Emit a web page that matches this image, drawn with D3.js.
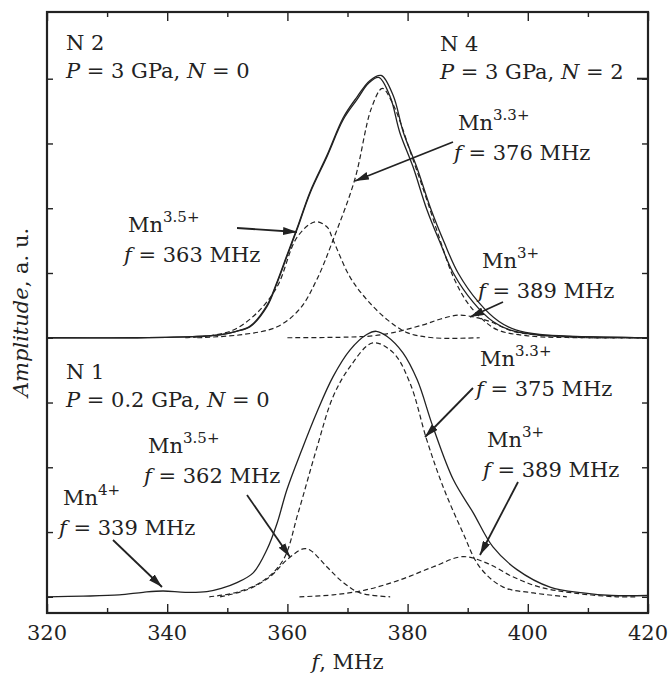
<!DOCTYPE html>
<html>
<head>
<meta charset="utf-8">
<script src="https://cdn.jsdelivr.net/npm/d3@7"></script>
<style>
  body { margin: 0; background: #fff; }
</style>
</head>
<body>
<div id="chart"></div>
<script>
// ---- data: [f in MHz, amplitude in tick units] ----
// lower spectrum sits on 0, upper spectrum on 4
const xTicksMajor = [320, 340, 360, 380, 400, 420];
const xTicksMinor = [330, 350, 370, 390, 410];
const yTicks = [0, 1, 2, 3, 4, 5, 6, 7, 8];

const upperN2 = [[320,4.0],[335,4.0],[345,4.02],[349,4.05],[351.5,4.1],[353.8,4.17],[356.6,4.48],[358.3,4.85],[359.9,5.25],[361.6,5.67],[363.8,6.24],[366.6,6.80],[369.3,7.37],[371.6,7.68],[373.5,7.93],[375.2,8.02],[377.1,7.72],[378.7,7.17],[380.9,6.64],[383.2,5.98],[385.4,5.47],[387.6,5.0],[390.9,4.55],[394.2,4.25],[397,4.12],[401,4.05],[407,4.02],[420,4.0]];
const upperN4 = [[320,4.0],[335,4.0],[345,4.02],[349,4.05],[351.5,4.1],[353.8,4.18],[356.6,4.5],[358.3,4.87],[359.9,5.27],[361.6,5.69],[363.8,6.26],[366.6,6.82],[369.3,7.4],[371.6,7.72],[373.7,7.97],[375.6,8.05],[377.6,7.74],[379.3,7.17],[381.5,6.64],[383.9,5.98],[386.1,5.47],[388.4,5.0],[391.8,4.55],[395.2,4.25],[398,4.12],[402,4.05],[408,4.02],[420,4.0]];
const upperMn33 = [[345,4.0],[352.6,4.05],[358.3,4.17],[362.1,4.45],[364.9,4.9],[367.6,5.51],[371.2,6.44],[374,7.55],[375.8,7.85],[377.6,7.6],[380.9,6.75],[383.2,6.13],[385.4,5.51],[387.6,4.94],[389.9,4.55],[392.5,4.28],[395,4.12],[400,4.03],[410,4.0],[420,4.0]];
const upperMn35 = [[343,4.0],[347,4.03],[351,4.12],[354.9,4.38],[358.3,4.79],[361.6,5.55],[364.6,5.79],[366.6,5.71],[367.6,5.51],[370.4,4.94],[373.2,4.59],[376.6,4.28],[379.9,4.08],[384.2,4.0],[392,4.0]];
const upperMn3 = [[360,4.0],[370,4.01],[374.2,4.03],[377.6,4.08],[382.6,4.2],[385.5,4.29],[388.5,4.35],[391.5,4.31],[394,4.24],[397.5,4.1],[400.9,4.05],[410,4.0],[420,4.0]];

const lowerN1 = [[320,0],[326,0.01],[332,0.03],[336,0.07],[339.3,0.09],[343,0.07],[346.6,0.08],[349,0.13],[351.6,0.22],[354.3,0.37],[356.6,0.73],[358.3,1.14],[359.9,1.65],[362.4,2.27],[364.9,2.85],[367.6,3.4],[370.4,3.81],[373.2,4.05],[374.8,4.1],[376.6,4.02],[379.2,3.77],[381.6,3.35],[384.2,2.63],[387.6,1.81],[390.9,1.3],[394.2,0.77],[398.2,0.42],[403.7,0.15],[409.2,0.06],[414,0.02],[420,0.02]];
const lowerMn33 = [[347,0.0],[351.6,0.07],[356,0.25],[359.3,0.57],[361.8,1.3],[364.9,2.3],[367.6,3.09],[370.4,3.55],[374.2,3.92],[377.6,3.77],[380.4,3.3],[383.2,2.42],[385.9,1.7],[389.2,0.99],[392,0.46],[395.9,0.15],[400.9,0.06],[406.5,0.0]];
const lowerMn35 = [[348.8,0],[353.3,0.11],[357.1,0.31],[359.9,0.57],[362.6,0.74],[363.8,0.72],[366.6,0.46],[369.3,0.22],[372.1,0.06],[377.1,0]];
const lowerMn3 = [[362,0],[367.6,0.03],[373.2,0.11],[378.7,0.26],[384.2,0.46],[389.2,0.62],[393.2,0.52],[397.5,0.31],[402,0.15],[407.5,0.06],[414.8,0],[418,0]];

// annotation texts
const panelLabels = [
  {name: 'N 2', p: '3 GPa', n: '0', x: 66, y: 50},
  {name: 'N 4', p: '3 GPa', n: '2', x: 440, y: 51},
  {name: 'N 1', p: '0.2 GPa', n: '0', x: 66, y: 379}
];
const ionLabels = [
  {ion: '3.3+', f: 376, x: 458, y: 130, ax: [453,142], bx: [355,181]},
  {ion: '3.5+', f: 363, x: 128, y: 232, ax: [237,228], bx: [297,232]},
  {ion: '3+',   f: 389, x: 482, y: 268, ax: [503,302], bx: [470,317]},
  {ion: '3.3+', f: 375, x: 480, y: 366, ax: [473,388], bx: [425,437]},
  {ion: '3+',   f: 389, x: 487, y: 447, ax: [518,482], bx: [480,555]},
  {ion: '3.5+', f: 362, x: 148, y: 453, ax: [247,495], bx: [290,557]},
  {ion: '4+',   f: 339, x: 63,  y: 505, ax: [113,540], bx: [162,587]}
];

const width = 671, height = 677;
const margin = {top: 12, right: 23, bottom: 64, left: 47};
const innerW = width - margin.left - margin.right;
const innerH = height - margin.top - margin.bottom;
const fs = 21;
const ink = '#222';
const face = '"DejaVu Serif"';

const svg = d3.select('#chart').append('svg')
  .attr('width', width)
  .attr('height', height);

const x = d3.scaleLinear().domain([320, 420]).range([margin.left, margin.left + innerW]);
const y = d3.scaleLinear().domain([-0.25, 9.03]).range([margin.top + innerH, margin.top]);

function serifText(parent, px, py, anchor) {
  return parent.append('text')
    .attr('x', px).attr('y', py)
    .attr('text-anchor', anchor || 'start')
    .attr('font-size', fs)
    .attr('fill', ink)
    .style('font-family', face);
}

// ----------------------------------
// AXES (inward ticks on all four sides)
// ----------------------------------
const bottomMajor = d3.axisBottom(x).tickValues(xTicksMajor).tickSize(-9).tickFormat('');
const bottomMinor = d3.axisBottom(x).tickValues(xTicksMinor).tickSize(-5).tickFormat('');
const topMajor = d3.axisTop(x).tickValues(xTicksMajor).tickSize(-9).tickFormat('');
const topMinor = d3.axisTop(x).tickValues(xTicksMinor).tickSize(-5).tickFormat('');
const leftAx = d3.axisLeft(y).tickValues(yTicks).tickSize(-6).tickFormat('');
const rightAx = d3.axisRight(y).tickValues(yTicks).tickSize(-6).tickFormat('');

const yB = margin.top + innerH, yT = margin.top;
const xL = margin.left, xR = margin.left + innerW;

function styleAxis(g) {
  g.select('.domain').remove();
  g.selectAll('.tick line').attr('stroke', ink).attr('stroke-width', 1.4);
}

svg.append('g').attr('transform', `translate(0,${yB})`).call(bottomMajor).call(styleAxis);
svg.append('g').attr('transform', `translate(0,${yB})`).call(bottomMinor).call(styleAxis);
svg.append('g').attr('transform', `translate(0,${yT})`).call(topMajor).call(styleAxis);
svg.append('g').attr('transform', `translate(0,${yT})`).call(topMinor).call(styleAxis);
svg.append('g').attr('transform', `translate(${xL},0)`).call(leftAx).call(styleAxis);
svg.append('g').attr('transform', `translate(${xR},0)`).call(rightAx).call(styleAxis);

// tick labels placed from the same scale
const tickLabels = svg.append('g');
xTicksMajor.forEach(v => serifText(tickLabels, x(v), yB + 27, 'middle').text(v));

// longer tick at the top level (the upper peak)
svg.append('line')
  .attr('x1', xR - 11).attr('x2', xR).attr('y1', y(8)).attr('y2', y(8))
  .attr('stroke', ink).attr('stroke-width', 2);

// ----------------------------------
// CURVES
// ----------------------------------
const line = d3.line()
  .x(d => x(d[0]))
  .y(d => y(d[1]))
  .curve(d3.curveCatmullRom.alpha(0.5));

const dashed = [upperMn33, upperMn35, upperMn3, lowerMn33, lowerMn35, lowerMn3];
svg.append('g').selectAll('path')
  .data(dashed)
  .enter()
  .append('path')
    .attr('d', line)
    .attr('fill', 'none')
    .attr('stroke', ink)
    .attr('stroke-width', 1.2)
    .attr('stroke-dasharray', '5,3');

const solid = [upperN2, upperN4, lowerN1];
svg.append('g').selectAll('path')
  .data(solid)
  .enter()
  .append('path')
    .attr('d', line)
    .attr('fill', 'none')
    .attr('stroke', ink)
    .attr('stroke-width', 1.3);

// frame
svg.append('rect')
  .attr('x', xL).attr('y', yT)
  .attr('width', innerW).attr('height', innerH)
  .attr('fill', 'none')
  .attr('stroke', ink)
  .attr('stroke-width', 2.2);

// ----------------------------------
// LABELS
// ----------------------------------
const labels = svg.append('g');

panelLabels.forEach(p => {
  serifText(labels, p.x, p.y).text(p.name);
  const t = serifText(labels, p.x, p.y + 28);
  t.append('tspan').attr('font-style', 'italic').text('P');
  t.append('tspan').text(` = ${p.p}, `);
  t.append('tspan').attr('font-style', 'italic').text('N');
  t.append('tspan').text(` = ${p.n}`);
});

svg.append('defs').append('marker')
  .attr('id', 'head')
  .attr('viewBox', '0 0 14 8')
  .attr('refX', 14).attr('refY', 4)
  .attr('markerWidth', 14).attr('markerHeight', 8)
  .attr('markerUnits', 'userSpaceOnUse')
  .attr('orient', 'auto')
  .append('path')
    .attr('d', 'M0,0 L14,4 L0,8 Z')
    .attr('fill', ink);

ionLabels.forEach(l => {
  const t = serifText(labels, l.x, l.y);
  t.append('tspan').text('Mn');
  t.append('tspan').attr('dy', -10).attr('font-size', 15).text(l.ion);
  const f = serifText(labels, l.x - 4, l.y + 30);
  f.append('tspan').attr('font-style', 'italic').text('f');
  f.append('tspan').text(` = ${l.f} MHz`);
  svg.append('line')
    .attr('x1', l.ax[0]).attr('y1', l.ax[1])
    .attr('x2', l.bx[0]).attr('y2', l.bx[1])
    .attr('stroke', ink)
    .attr('stroke-width', 1.8)
    .attr('marker-end', 'url(#head)');
});

// axis titles
const xt = serifText(svg, (xL + xR) / 2, 669, 'middle');
xt.append('tspan').attr('font-style', 'italic').text('f');
xt.append('tspan').text(', MHz');

const yt = svg.append('g').attr('transform', `translate(28,${(yT + yB) / 2}) rotate(-90)`);
const ytt = serifText(yt, 0, 0, 'middle');
ytt.append('tspan').attr('font-style', 'italic').text('Amplitude');
ytt.append('tspan').text(', a. u.');
</script>
</body>
</html>
